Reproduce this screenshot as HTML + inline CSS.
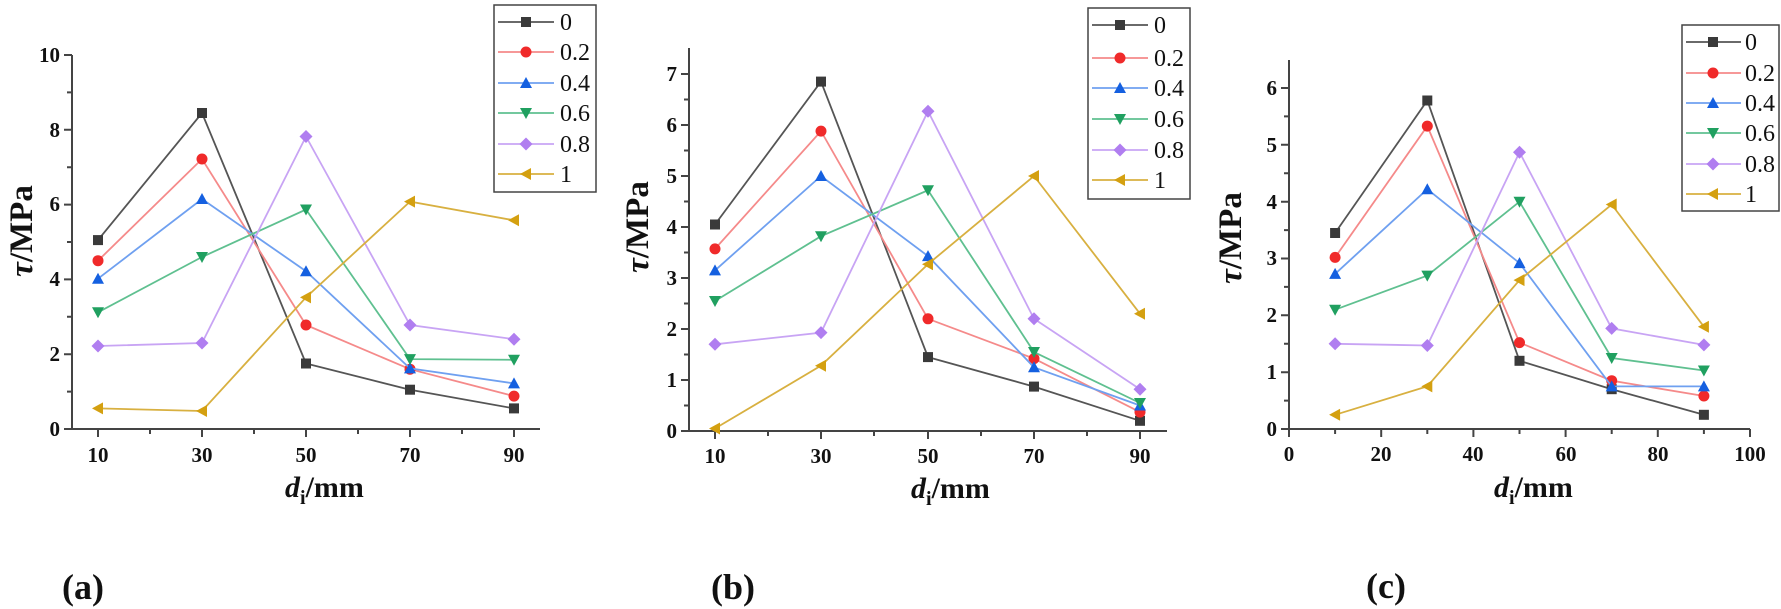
<!DOCTYPE html>
<html><head><meta charset="utf-8"><style>
html,body{margin:0;padding:0;background:#fff;}
svg{display:block;}
.tk{font-family:"Liberation Serif",serif;font-weight:bold;font-size:21px;fill:#111;}
.lg{font-family:"Liberation Serif",serif;font-size:24px;fill:#111;}
.tt{font-family:"Liberation Serif",serif;font-weight:bold;font-size:30px;fill:#111;}
.ty{font-family:"Liberation Serif",serif;font-weight:bold;font-size:33px;fill:#111;}
.pl{font-family:"Liberation Serif",serif;font-weight:bold;font-size:36px;fill:#111;}
.ax{stroke:#444;stroke-width:2;fill:none;}
</style></head><body>
<svg width="1781" height="609" viewBox="0 0 1781 609" xmlns="http://www.w3.org/2000/svg">
<defs>
<marker id="m0" markerUnits="userSpaceOnUse" markerWidth="12" markerHeight="12" refX="6" refY="6"><rect x="1" y="1" width="10" height="10" fill="#3a3a3a"/></marker>
<marker id="m1" markerUnits="userSpaceOnUse" markerWidth="12" markerHeight="12" refX="6" refY="6"><circle cx="6" cy="6" r="5.5" fill="#f02a2a"/></marker>
<marker id="m2" markerUnits="userSpaceOnUse" markerWidth="14" markerHeight="14" refX="7" refY="7"><polygon points="7,1 13,12 1,12" fill="#1560e0"/></marker>
<marker id="m3" markerUnits="userSpaceOnUse" markerWidth="14" markerHeight="14" refX="7" refY="7"><polygon points="1,2 13,2 7,13" fill="#20a060"/></marker>
<marker id="m4" markerUnits="userSpaceOnUse" markerWidth="14" markerHeight="14" refX="7" refY="7"><polygon points="7,0.5 13.5,7 7,13.5 0.5,7" fill="#b07ef0"/></marker>
<marker id="m5" markerUnits="userSpaceOnUse" markerWidth="14" markerHeight="14" refX="7" refY="7"><polygon points="1,7 12,1 12,13" fill="#d4a010"/></marker>
</defs>
<style>
.s0{stroke:#555;stroke-width:1.8;fill:none;marker-start:url(#m0);marker-mid:url(#m0);marker-end:url(#m0);}
.s1{stroke:#f58a8a;stroke-width:1.8;fill:none;marker-start:url(#m1);marker-mid:url(#m1);marker-end:url(#m1);}
.s2{stroke:#6fa0f0;stroke-width:1.8;fill:none;marker-start:url(#m2);marker-mid:url(#m2);marker-end:url(#m2);}
.s3{stroke:#5fc090;stroke-width:1.8;fill:none;marker-start:url(#m3);marker-mid:url(#m3);marker-end:url(#m3);}
.s4{stroke:#c8a4f4;stroke-width:1.8;fill:none;marker-start:url(#m4);marker-mid:url(#m4);marker-end:url(#m4);}
.s5{stroke:#d8b040;stroke-width:1.8;fill:none;marker-start:url(#m5);marker-mid:url(#m5);marker-end:url(#m5);}
.l0,.l1,.l2,.l3,.l4,.l5{marker-start:none;marker-end:none;}
</style>

<!-- ===== Panel A ===== -->
<path class="ax" d="M72,55 V429 H540"/>
<path class="ax" d="M64,429H72 M64,354.2H72 M64,279.4H72 M64,204.6H72 M64,129.8H72 M64,55H72 M67,391.6H72 M67,316.8H72 M67,242H72 M67,167.2H72 M67,92.4H72"/>
<path class="ax" d="M98,429V437 M202,429V437 M306,429V437 M410,429V437 M514,429V437 M150,429V434 M254,429V434 M358,429V434 M462,429V434"/>
<g class="tk" text-anchor="end"><text x="60" y="436">0</text><text x="60" y="361">2</text><text x="60" y="286">4</text><text x="60" y="211">6</text><text x="60" y="137">8</text><text x="60" y="62">10</text></g>
<g class="tk" text-anchor="middle"><text x="98" y="462">10</text><text x="202" y="462">30</text><text x="306" y="462">50</text><text x="410" y="462">70</text><text x="514" y="462">90</text></g>
<polyline class="s0" points="98,240.1 202,113 306,363.5 410,389.7 514,408.4"/>
<polyline class="s1" points="98,260.7 202,159 306,325 410,369.2 514,396.1"/>
<polyline class="s2" points="98,278.7 202,199 306,271.2 410,368.4 514,383.4"/>
<polyline class="s3" points="98,312.3 202,257 306,209.5 410,359.1 514,359.8"/>
<polyline class="s4" points="98,346 202,343 306,136.5 410,325 514,339.2"/>
<polyline class="s5" points="98,408.4 202,411 306,297.4 410,201.6 514,220.3"/>
<text class="ty" transform="translate(32,231) rotate(-90)" text-anchor="middle"><tspan font-style="italic">τ</tspan>/MPa</text>
<text class="tt" x="285" y="497"><tspan font-style="italic">d</tspan><tspan font-size="20" dy="7">i</tspan><tspan dy="-7">/mm</tspan></text>
<text class="pl" x="62" y="599">(a)</text>
<rect x="494" y="5" width="102" height="187" fill="#fff" stroke="#444" stroke-width="1.5"/>
<polyline class="s0 l0" points="498,22 526,22 554,22"/><text class="lg" x="560" y="30">0</text>
<polyline class="s1 l1" points="498,52 526,52 554,52"/><text class="lg" x="560" y="60">0.2</text>
<polyline class="s2 l2" points="498,83 526,83 554,83"/><text class="lg" x="560" y="91">0.4</text>
<polyline class="s3 l3" points="498,113 526,113 554,113"/><text class="lg" x="560" y="121">0.6</text>
<polyline class="s4 l4" points="498,144 526,144 554,144"/><text class="lg" x="560" y="152">0.8</text>
<polyline class="s5 l5" points="498,174 526,174 554,174"/><text class="lg" x="560" y="182">1</text>

<!-- ===== Panel B ===== -->
<path class="ax" d="M689,48 V431 H1167"/>
<path class="ax" d="M681,431H689 M681,380H689 M681,329H689 M681,278H689 M681,227H689 M681,176H689 M681,125H689 M681,74H689 M684,405.5H689 M684,354.5H689 M684,303.5H689 M684,252.5H689 M684,201.5H689 M684,150.5H689 M684,99.5H689"/>
<path class="ax" d="M715,431V439 M821,431V439 M928,431V439 M1034,431V439 M1140,431V439 M768,431V436 M874,431V436 M981,431V436 M1087,431V436"/>
<g class="tk" text-anchor="end"><text x="677" y="438">0</text><text x="677" y="387">1</text><text x="677" y="336">2</text><text x="677" y="285">3</text><text x="677" y="234">4</text><text x="677" y="183">5</text><text x="677" y="132">6</text><text x="677" y="81">7</text></g>
<g class="tk" text-anchor="middle"><text x="715" y="463">10</text><text x="821" y="463">30</text><text x="928" y="463">50</text><text x="1034" y="463">70</text><text x="1140" y="463">90</text></g>
<polyline class="s0" points="715,224.5 821,81.6 928,357.1 1034,386.6 1140,420.8"/>
<polyline class="s1" points="715,248.9 821,131.1 928,318.8 1034,358.6 1140,412.1"/>
<polyline class="s2" points="715,270.4 821,176 928,256.1 1034,367.3 1140,405.5"/>
<polyline class="s3" points="715,301 821,236.2 928,190.3 1034,352 1140,403"/>
<polyline class="s4" points="715,344.3 821,332.6 928,111.2 1034,318.8 1140,389.2"/>
<polyline class="s5" points="715,428.5 821,365.7 928,264.2 1034,176 1140,313.7"/>
<text class="ty" transform="translate(648,227) rotate(-90)" text-anchor="middle"><tspan font-style="italic">τ</tspan>/MPa</text>
<text class="tt" x="911" y="498"><tspan font-style="italic">d</tspan><tspan font-size="20" dy="7">i</tspan><tspan dy="-7">/mm</tspan></text>
<text class="pl" x="711" y="599">(b)</text>
<rect x="1088" y="8" width="102" height="191" fill="#fff" stroke="#444" stroke-width="1.5"/>
<polyline class="s0 l0" points="1092,25 1120,25 1148,25"/><text class="lg" x="1154" y="33">0</text>
<polyline class="s1 l1" points="1092,58 1120,58 1148,58"/><text class="lg" x="1154" y="66">0.2</text>
<polyline class="s2 l2" points="1092,88 1120,88 1148,88"/><text class="lg" x="1154" y="96">0.4</text>
<polyline class="s3 l3" points="1092,119 1120,119 1148,119"/><text class="lg" x="1154" y="127">0.6</text>
<polyline class="s4 l4" points="1092,150 1120,150 1148,150"/><text class="lg" x="1154" y="158">0.8</text>
<polyline class="s5 l5" points="1092,180 1120,180 1148,180"/><text class="lg" x="1154" y="188">1</text>

<!-- ===== Panel C ===== -->
<path class="ax" d="M1289,60 V429 H1750"/>
<path class="ax" d="M1281,429H1289 M1281,372.2H1289 M1281,315.3H1289 M1281,258.5H1289 M1281,201.7H1289 M1281,144.8H1289 M1281,88H1289 M1284,400.6H1289 M1284,343.7H1289 M1284,286.9H1289 M1284,230.1H1289 M1284,173.3H1289 M1284,116.4H1289"/>
<path class="ax" d="M1289,429V437 M1381.2,429V437 M1473.4,429V437 M1565.6,429V437 M1657.8,429V437 M1750,429V437 M1335.1,429V434 M1427.3,429V434 M1519.5,429V434 M1611.7,429V434 M1703.9,429V434"/>
<g class="tk" text-anchor="end"><text x="1277" y="436">0</text><text x="1277" y="379">1</text><text x="1277" y="322">2</text><text x="1277" y="265">3</text><text x="1277" y="209">4</text><text x="1277" y="152">5</text><text x="1277" y="95">6</text></g>
<g class="tk" text-anchor="middle"><text x="1289" y="461">0</text><text x="1381" y="461">20</text><text x="1473" y="461">40</text><text x="1566" y="461">60</text><text x="1658" y="461">80</text><text x="1750" y="461">100</text></g>
<polyline class="s0" points="1335.1,233 1427.3,100.5 1519.5,360.8 1611.7,389.2 1703.9,414.8"/>
<polyline class="s1" points="1335.1,257.4 1427.3,126.1 1519.5,342.6 1611.7,380.7 1703.9,396"/>
<polyline class="s2" points="1335.1,273.9 1427.3,189.2 1519.5,263.1 1611.7,386.4 1703.9,386.4"/>
<polyline class="s3" points="1335.1,309.7 1427.3,275.6 1519.5,201.7 1611.7,358 1703.9,370.5"/>
<polyline class="s4" points="1335.1,343.8 1427.3,345.5 1519.5,152.2 1611.7,328.4 1703.9,344.9"/>
<polyline class="s5" points="1335.1,414.8 1427.3,386.4 1519.5,280.1 1611.7,204.5 1703.9,326.7"/>
<text class="ty" transform="translate(1241,238) rotate(-90)" text-anchor="middle"><tspan font-style="italic">τ</tspan>/MPa</text>
<text class="tt" x="1494" y="497"><tspan font-style="italic">d</tspan><tspan font-size="20" dy="7">i</tspan><tspan dy="-7">/mm</tspan></text>
<text class="pl" x="1366" y="598">(c)</text>
<rect x="1682" y="25" width="97" height="186" fill="#fff" stroke="#444" stroke-width="1.5"/>
<polyline class="s0 l0" points="1686,42 1713,42 1741,42"/><text class="lg" x="1745" y="50">0</text>
<polyline class="s1 l1" points="1686,73 1713,73 1741,73"/><text class="lg" x="1745" y="81">0.2</text>
<polyline class="s2 l2" points="1686,103 1713,103 1741,103"/><text class="lg" x="1745" y="111">0.4</text>
<polyline class="s3 l3" points="1686,133 1713,133 1741,133"/><text class="lg" x="1745" y="141">0.6</text>
<polyline class="s4 l4" points="1686,164 1713,164 1741,164"/><text class="lg" x="1745" y="172">0.8</text>
<polyline class="s5 l5" points="1686,194 1713,194 1741,194"/><text class="lg" x="1745" y="202">1</text>
</svg>
</body></html>
